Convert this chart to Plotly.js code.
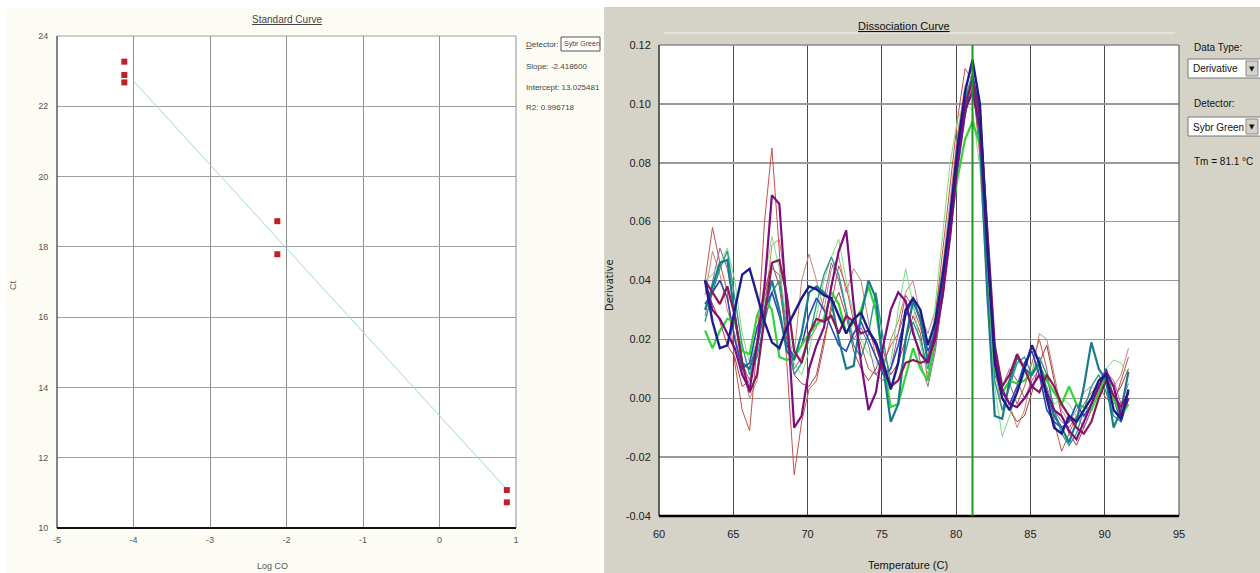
<!DOCTYPE html>
<html><head><meta charset="utf-8">
<script src="https://cdn.plot.ly/plotly-3.0.1.min.js"></script>
<style>html,body{margin:0;padding:0;background:#fff}#chart{width:1260px;height:573px}</style>
</head><body><div id="chart"></div>
<script>
// ---------- Standard curve (left) ----------
const logCO    = [-4.12, -4.12, -4.12, -2.12, -2.12, 0.88, 0.88];
const ctValues = [23.27, 22.89, 22.68, 18.73, 17.79, 11.08, 10.73];
const fitLogCO = [-4.0, 0.88];
const fitCt    = [22.72, 11.10];
const slopeText = "-2.418600";
const interceptText = "13.025481";
const r2Text = "0.996718";
const stdXTicks = [-5, -4, -3, -2, -1, 0, 1];
const stdXLabels = ["-5", "-4", "-3", "-2", "-1", "0", "1"];
const stdYTicks = [10, 12, 14, 16, 18, 20, 22, 24];
const stdYLabels = ["10", "12", "14", "16", "18", "20", "22", "24"];

// ---------- Dissociation curve (right) ----------
const temps = [63.1,63.6,64.1,64.6,65.1,65.6,66.1,66.6,67.1,67.6,
               68.1,68.6,69.1,69.6,70.1,70.6,71.1,71.6,72.1,72.6,
               73.1,73.6,74.1,74.6,75.1,75.6,76.1,76.6,77.1,77.6,
               78.1,78.6,79.1,79.6,80.1,80.6,81.1,81.6,82.1,82.6,
               83.1,83.6,84.1,84.6,85.1,85.6,86.1,86.6,87.1,87.6,
               88.1,88.6,89.1,89.6,90.1,90.6,91.1,91.6];
const tm = 81.1;
const dsXTicks = [60, 65, 70, 75, 80, 85, 90, 95];
const dsXLabels = ["60", "65", "70", "75", "80", "85", "90", "95"];
const dsYTicks = [-0.04, -0.02, 0, 0.02, 0.04, 0.06, 0.08, 0.10, 0.12];
const dsYLabels = ["-0.04", "-0.02", "0.00", "0.02", "0.04", "0.06", "0.08", "0.10", "0.12"];

const wellNavy = [0.040,0.026,0.017,0.018,0.030,0.042,0.044,0.035,0.026,0.019,
  0.017,0.024,0.029,0.034,0.038,0.037,0.035,0.034,0.028,0.022,
  0.027,0.029,0.023,0.019,0.012,0.003,0.012,0.030,0.034,0.030,
  0.018,0.026,0.042,0.062,0.085,0.104,0.115,0.100,0.052,0.012,
  0.000,-0.004,0.002,0.010,0.018,0.012,0.000,-0.010,-0.012,-0.006,
  -0.008,-0.004,0.000,0.006,0.008,-0.004,-0.007,0.003];
const wellPurple = [0.040,0.030,0.027,0.022,0.017,0.008,0.003,0.018,0.038,0.069,
  0.066,0.030,-0.010,-0.006,0.010,0.018,0.024,0.038,0.050,0.057,
  0.032,0.012,-0.004,0.002,0.018,0.030,0.036,0.033,0.022,0.015,
  0.012,0.022,0.035,0.055,0.080,0.098,0.104,0.092,0.050,0.015,
  0.003,-0.002,-0.003,0.000,0.004,0.008,0.002,-0.004,-0.006,-0.011,
  -0.014,-0.008,-0.002,0.004,0.009,0.004,-0.006,0.000];
const wellRed = [0.040,0.058,0.046,0.036,0.012,-0.004,-0.011,0.018,0.060,0.085,
  0.050,0.013,-0.026,-0.008,0.003,0.006,0.018,0.032,0.045,0.038,
  0.026,0.018,0.010,0.008,0.012,0.018,0.022,0.035,0.031,0.024,
  0.014,0.028,0.050,0.072,0.095,0.112,0.108,0.082,0.040,0.008,
  0.002,0.005,-0.002,0.004,0.012,0.020,0.010,-0.008,-0.018,-0.012,
  -0.006,-0.002,0.002,0.004,0.000,-0.002,0.006,0.014];
const wellMagenta = [0.040,0.036,0.032,0.038,0.028,0.012,0.002,0.008,0.028,0.046,
  0.047,0.035,0.016,0.012,0.022,0.027,0.026,0.028,0.022,0.028,
  0.026,0.022,0.023,0.018,0.010,0.004,0.006,0.012,0.013,0.012,
  0.013,0.020,0.036,0.058,0.082,0.100,0.108,0.096,0.055,0.018,
  0.004,0.008,0.015,0.010,0.004,0.002,0.008,0.004,-0.002,-0.006,
  -0.010,-0.012,-0.008,0.000,0.006,0.001,-0.003,0.002];
const wellTeal = [0.030,0.038,0.046,0.047,0.028,0.012,0.010,0.018,0.030,0.040,
  0.030,0.016,0.013,0.022,0.036,0.038,0.036,0.033,0.020,0.010,
  0.011,0.028,0.040,0.034,0.010,-0.008,-0.002,0.020,0.033,0.027,
  0.012,0.024,0.040,0.060,0.082,0.100,0.108,0.088,0.035,-0.006,
  -0.007,0.006,0.014,0.010,0.008,0.012,0.002,-0.006,-0.010,-0.015,
  -0.008,0.004,0.019,0.010,0.006,-0.010,-0.004,0.009];
const wellGreen = [0.023,0.017,0.023,0.027,0.026,0.016,0.015,0.028,0.034,0.030,
  0.014,0.013,0.014,0.018,0.022,0.025,0.027,0.036,0.032,0.022,
  0.026,0.030,0.038,0.030,0.012,-0.003,-0.002,0.008,0.017,0.010,
  0.006,0.020,0.038,0.058,0.075,0.088,0.094,0.086,0.048,0.010,
  0.002,0.006,0.005,0.006,0.009,0.011,0.006,0.002,-0.002,0.004,
  -0.002,-0.003,-0.004,0.002,0.008,0.000,-0.006,-0.002];
const wellLightGreen = [0.040,0.042,0.046,0.051,0.040,0.022,0.012,0.020,0.040,0.055,
  0.044,0.026,0.012,0.008,0.016,0.028,0.040,0.048,0.054,0.040,
  0.028,0.020,0.015,0.012,0.008,0.012,0.030,0.044,0.032,0.018,
  0.008,0.032,0.055,0.080,0.095,0.100,0.098,0.078,0.036,0.004,
  -0.013,-0.006,0.002,0.008,0.012,0.010,0.003,-0.002,0.000,-0.002,
  -0.006,-0.004,0.000,0.006,0.010,0.013,0.012,0.008];
const wellRose = [0.035,0.050,0.042,0.030,0.022,0.010,0.000,0.006,0.030,0.052,
  0.054,0.036,0.015,0.040,0.049,0.040,0.030,0.044,0.048,0.036,
  0.044,0.040,0.026,0.014,0.010,0.020,0.026,0.036,0.040,0.028,
  0.022,0.030,0.045,0.068,0.090,0.106,0.112,0.092,0.045,0.010,
  -0.004,-0.002,-0.010,-0.004,0.008,0.022,0.020,0.008,-0.004,-0.008,
  -0.004,0.002,0.004,0.002,0.006,0.004,0.008,0.017];
const wellMauve = [0.028,0.040,0.051,0.044,0.030,0.012,0.006,0.016,0.034,0.044,
  0.042,0.024,0.010,0.014,0.020,0.024,0.034,0.046,0.040,0.030,
  0.020,0.024,0.018,0.008,0.006,0.010,0.022,0.030,0.024,0.012,
  0.004,0.016,0.034,0.055,0.078,0.096,0.106,0.094,0.054,0.016,
  0.004,0.010,0.006,0.000,0.006,0.010,0.004,-0.004,-0.008,-0.010,
  -0.006,-0.010,-0.004,0.002,0.009,0.006,-0.002,0.005];
const wellSeaGreen = [0.026,0.036,0.044,0.050,0.034,0.018,0.008,0.014,0.026,0.036,
  0.040,0.022,0.008,0.012,0.020,0.032,0.042,0.048,0.042,0.030,
  0.018,0.014,0.022,0.036,0.020,0.004,0.006,0.016,0.026,0.020,
  0.010,0.020,0.038,0.060,0.084,0.102,0.110,0.094,0.048,0.006,
  -0.004,0.004,0.012,0.014,0.008,0.014,0.008,-0.004,-0.012,-0.016,
  -0.012,-0.004,0.004,0.008,0.002,-0.006,-0.008,0.002];
const wellDarkRed = [0.038,0.032,0.026,0.018,0.014,0.004,0.006,0.020,0.036,0.046,
  0.038,0.020,0.008,0.005,0.004,0.008,0.020,0.030,0.036,0.028,
  0.016,0.010,0.006,0.010,0.016,0.008,0.012,0.020,0.028,0.022,
  0.006,0.018,0.040,0.064,0.088,0.104,0.104,0.090,0.052,0.014,
  0.000,-0.004,-0.008,-0.006,0.002,0.012,0.018,0.006,-0.006,-0.012,
  -0.016,-0.010,-0.004,0.002,0.006,0.000,0.004,0.010];
const wellBlue = [0.032,0.036,0.040,0.034,0.020,0.010,0.012,0.024,0.030,0.036,
  0.028,0.018,0.014,0.018,0.028,0.034,0.030,0.024,0.018,0.016,
  0.022,0.026,0.020,0.014,0.008,0.010,0.018,0.028,0.034,0.026,
  0.016,0.022,0.036,0.056,0.078,0.096,0.110,0.098,0.058,0.016,
  0.002,-0.002,0.004,0.012,0.016,0.008,-0.004,-0.008,-0.010,-0.008,
  -0.002,-0.006,-0.002,0.004,0.010,0.000,-0.008,0.000];

// draw order: thin first, thick last
const wells = [
  {y: wellRose,       color: '#c98272', width: 1},
  {y: wellRed,        color: '#c4514b', width: 1},
  {y: wellDarkRed,    color: '#a83a3a', width: 1},
  {y: wellMauve,      color: '#9c5c94', width: 1},
  {y: wellLightGreen, color: '#7edc7e', width: 1},
  {y: wellSeaGreen,   color: '#2a9c88', width: 1.4},
  {y: wellBlue,       color: '#2b48b8', width: 1.6},
  {y: wellGreen,      color: '#33d433', width: 2.2},
  {y: wellTeal,       color: '#1a7a8c', width: 2.2},
  {y: wellMagenta,    color: '#8a1a5c', width: 2.2},
  {y: wellPurple,     color: '#7e0c80', width: 2.2},
  {y: wellNavy,       color: '#1c1c8c', width: 2.4}
];

const W = 1260, H = 573;
const px = x => x / W;
const py = y => 1 - y / H;
const narrow = 'Liberation Sans Narrow, Liberation Sans, Arial, sans-serif';

const traces = [];
traces.push({x: fitLogCO, y: fitCt, xaxis: 'x', yaxis: 'y', mode: 'lines',
  line: {color: '#9fd6d6', width: 1}, hoverinfo: 'skip'});
traces.push({x: logCO, y: ctValues, xaxis: 'x', yaxis: 'y', mode: 'markers',
  marker: {symbol: 'square', size: 6, color: '#c0202a'}, hoverinfo: 'skip'});
wells.forEach(w => traces.push({x: temps, y: w.y, xaxis: 'x2', yaxis: 'y2', mode: 'lines',
  line: {color: w.color, width: w.width}, hoverinfo: 'skip'}));

const shapes = [
  {type: 'rect', xref: 'paper', yref: 'paper', x0: px(6), x1: px(601), y0: py(573), y1: py(8),
   fillcolor: '#fdfcf4', line: {width: 0}, layer: 'below'},
  {type: 'rect', xref: 'paper', yref: 'paper', x0: px(604), x1: px(1260), y0: py(573), y1: py(7),
   fillcolor: '#d5d2c8', line: {width: 0}, layer: 'below'},
  {type: 'rect', xref: 'x domain', yref: 'y domain', x0: 0, x1: 1, y0: 0, y1: 1,
   fillcolor: '#ffffff', line: {width: 0}, layer: 'below'},
  {type: 'rect', xref: 'x2 domain', yref: 'y2 domain', x0: 0, x1: 1, y0: 0, y1: 1,
   fillcolor: '#ffffff', line: {width: 0}, layer: 'below'},
  {type: 'line', xref: 'paper', yref: 'paper', x0: px(664), x1: px(1175), y0: py(33), y1: py(33),
   line: {color: '#e4e1d8', width: 2}, layer: 'below'},
  // left plot frame
  {type: 'line', xref: 'x domain', yref: 'y domain', x0: 0, x1: 1, y0: 1, y1: 1, line: {color: '#a0a0a0', width: 1}},
  {type: 'line', xref: 'x domain', yref: 'y domain', x0: 1, x1: 1, y0: 0, y1: 1, line: {color: '#909090', width: 1}},
  {type: 'line', xref: 'x domain', yref: 'y domain', x0: 0, x1: 0, y0: 0, y1: 1, line: {color: '#333333', width: 1.2}},
  {type: 'line', xref: 'x domain', yref: 'y domain', x0: 0, x1: 1, y0: 0, y1: 0, line: {color: '#111111', width: 2}},
  // right plot frame
  {type: 'line', xref: 'x2 domain', yref: 'y2 domain', x0: 0, x1: 1, y0: 1, y1: 1, line: {color: '#8a8a8a', width: 1.5}},
  {type: 'line', xref: 'x2 domain', yref: 'y2 domain', x0: 1, x1: 1, y0: 0, y1: 1, line: {color: '#444444', width: 1}},
  {type: 'line', xref: 'x2 domain', yref: 'y2 domain', x0: 0, x1: 0, y0: 0, y1: 1, line: {color: '#333333', width: 1.5}},
  {type: 'line', xref: 'x2 domain', yref: 'y2 domain', x0: 0, x1: 1, y0: 0, y1: 0, line: {color: '#000000', width: 2.5}},
  // Tm line
  {type: 'line', xref: 'x2', yref: 'y2 domain', x0: tm, x1: tm, y0: 0, y1: 1, line: {color: '#1e961e', width: 2}},
  // left detector box
  {type: 'rect', xref: 'paper', yref: 'paper', x0: px(561), x1: px(600), y0: py(51), y1: py(37),
   fillcolor: '#ffffff', line: {color: '#555555', width: 1}},
  // right dropdowns
  {type: 'rect', xref: 'paper', yref: 'paper', x0: px(1188), x1: px(1262), y0: py(78), y1: py(59),
   fillcolor: '#ffffff', line: {color: '#777777', width: 1}},
  {type: 'rect', xref: 'paper', yref: 'paper', x0: px(1246), x1: px(1258), y0: py(76), y1: py(61),
   fillcolor: '#d5d2c8', line: {color: '#888888', width: 1}},
  {type: 'rect', xref: 'paper', yref: 'paper', x0: px(1188), x1: px(1262), y0: py(136), y1: py(117),
   fillcolor: '#ffffff', line: {color: '#777777', width: 1}},
  {type: 'rect', xref: 'paper', yref: 'paper', x0: px(1246), x1: px(1258), y0: py(134), y1: py(119),
   fillcolor: '#d5d2c8', line: {color: '#888888', width: 1}}
];

function ann(text, x, y, opts) {
  return Object.assign({text: text, x: px(x), y: py(y), xref: 'paper', yref: 'paper',
    showarrow: false, xanchor: 'left', yanchor: 'middle',
    font: {family: narrow, size: 11, color: '#222222'}}, opts || {});
}

const annotations = [
  ann('<u>Standard Curve</u>', 287, 19, {xanchor: 'center', font: {family: narrow, size: 10, color: '#444'}}),
  ann('Ct', 13, 285, {xanchor: 'center', textangle: -90, font: {family: narrow, size: 9, color: '#555'}}),
  ann('Log CO', 272, 566, {xanchor: 'center', font: {family: narrow, size: 9, color: '#555'}}),
  ann('<u>D</u>etector:', 524, 44, {font: {family: narrow, size: 8, color: '#444'}}),
  ann('Sybr Green', 562, 44, {font: {family: narrow, size: 7, color: '#444'}}),
  ann('Slope: ' + slopeText, 524, 66, {font: {family: narrow, size: 8, color: '#444'}}),
  ann('Intercept: ' + interceptText, 524, 88, {font: {family: narrow, size: 8, color: '#444'}}),
  ann('R2: ' + r2Text, 524, 108, {font: {family: narrow, size: 8, color: '#444'}}),

  ann('<u>Dissociation Curve</u>', 904, 26, {xanchor: 'center', font: {family: narrow, size: 11, color: '#111'}}),
  ann('Derivative', 609, 285, {xanchor: 'center', textangle: -90, font: {family: 'DejaVu Sans, sans-serif', size: 10, color: '#222'}}),
  ann('Temperature (C)', 908, 565, {xanchor: 'center', font: {family: narrow, size: 11, color: '#111'}}),
  ann('Data Type:', 1192, 47, {font: {family: narrow, size: 10, color: '#111'}}),
  ann('Derivative', 1191, 69, {font: {family: narrow, size: 10, color: '#111'}}),
  ann('▼', 1252, 69, {xanchor: 'center', font: {family: 'DejaVu Sans, sans-serif', size: 7, color: '#111'}}),
  ann('Detector:', 1192, 103, {font: {family: narrow, size: 10, color: '#111'}}),
  ann('Sybr Green', 1191, 127, {font: {family: narrow, size: 10, color: '#111'}}),
  ann('▼', 1252, 127, {xanchor: 'center', font: {family: 'DejaVu Sans, sans-serif', size: 7, color: '#111'}}),
  ann('Tm = ' + tm.toFixed(1) + ' °C', 1192, 162, {font: {family: narrow, size: 10, color: '#111'}})
];

const layout = {
  width: W, height: H, margin: {l: 0, r: 0, t: 0, b: 0},
  paper_bgcolor: '#ffffff', plot_bgcolor: 'rgba(0,0,0,0)', showlegend: false,
  xaxis: {domain: [px(57), px(516)], range: [-5, 1], anchor: 'y',
    tickmode: 'array', tickvals: stdXTicks, ticktext: stdXLabels,
    showgrid: true, gridcolor: '#8e8e8e', gridwidth: 1, zeroline: false, showline: false,
    ticks: 'outside', ticklen: 3, tickcolor: 'rgba(0,0,0,0)',
    tickfont: {family: narrow, size: 9, color: '#555'}, fixedrange: true},
  yaxis: {domain: [py(528), py(36)], range: [10, 24], anchor: 'x',
    tickmode: 'array', tickvals: stdYTicks, ticktext: stdYLabels,
    showgrid: true, gridcolor: '#a0a0a0', gridwidth: 1, zeroline: false, showline: false,
    ticks: 'outside', ticklen: 6, tickcolor: 'rgba(0,0,0,0)',
    tickfont: {family: narrow, size: 9, color: '#555'}, fixedrange: true},
  xaxis2: {domain: [px(659), px(1179)], range: [60, 95], anchor: 'y2',
    tickmode: 'array', tickvals: dsXTicks, ticktext: dsXLabels,
    showgrid: true, gridcolor: '#4a4a4a', gridwidth: 1, zeroline: false, showline: false,
    ticks: 'outside', ticklen: 8, tickcolor: 'rgba(0,0,0,0)',
    tickfont: {family: narrow, size: 11, color: '#222'}, fixedrange: true},
  yaxis2: {domain: [py(516), py(45)], range: [-0.04, 0.12], anchor: 'x2',
    tickmode: 'array', tickvals: dsYTicks, ticktext: dsYLabels,
    showgrid: true, gridcolor: '#9a9a9a', gridwidth: 1.5, zeroline: false, showline: false,
    ticks: 'outside', ticklen: 5, tickcolor: 'rgba(0,0,0,0)',
    tickfont: {family: narrow, size: 11, color: '#222'}, fixedrange: true},
  shapes: shapes,
  annotations: annotations
};

Plotly.newPlot('chart', traces, layout, {staticPlot: true, displayModeBar: false});
</script>
</body></html>
